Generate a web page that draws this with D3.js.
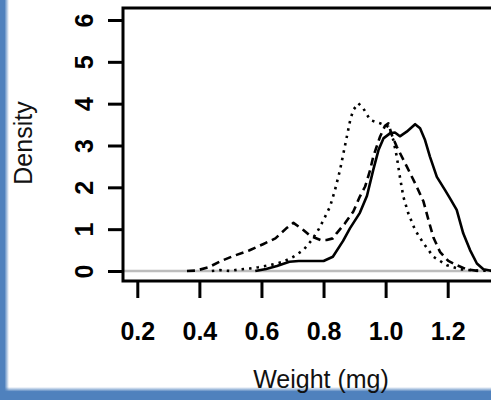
<!DOCTYPE html>
<html>
<head>
<meta charset="utf-8">
<script src="https://cdn.jsdelivr.net/npm/d3@7"></script>
<style>
  body { margin: 0; background: #fff; }
  svg { display: block; }
  text { font-family: 'Liberation Sans', Arial, sans-serif; }
  .tick text { font-family: 'Liberation Sans', Arial, sans-serif; font-weight: bold; font-size: 25px; fill: #000; }
  .axis-label { font-size: 25px; fill: #111; }
</style>
</head>
<body>
<svg width="491" height="400"></svg>
<script>
  // density curves: [weight, density]
  const solidCurve = [
    [0.58, 0], [0.615, 0.05], [0.65, 0.12], [0.69, 0.22], [0.72, 0.24], [0.80, 0.24],
    [0.83, 0.34], [0.863, 0.72], [0.885, 1.02], [0.917, 1.39], [0.94, 1.80],
    [0.96, 2.41], [0.977, 2.89], [0.993, 3.17], [1.014, 3.29], [1.03, 3.31],
    [1.046, 3.22], [1.068, 3.33], [1.095, 3.51], [1.111, 3.41], [1.127, 3.13],
    [1.143, 2.73], [1.165, 2.25], [1.191, 1.94], [1.207, 1.74], [1.229, 1.46],
    [1.25, 0.90], [1.272, 0.50], [1.294, 0.18], [1.315, 0.04], [1.336, 0.01], [1.40, 0]
  ];
  const dashedCurve = [
    [0.36, 0], [0.39, 0.01], [0.43, 0.09], [0.47, 0.24], [0.51, 0.36], [0.56, 0.49],
    [0.605, 0.64], [0.645, 0.78], [0.68, 1.02], [0.703, 1.15], [0.735, 0.98],
    [0.757, 0.84], [0.79, 0.74], [0.81, 0.74], [0.83, 0.78], [0.842, 0.90],
    [0.869, 1.14], [0.896, 1.42], [0.917, 1.78], [0.934, 2.02], [0.95, 2.41],
    [0.96, 2.73], [0.971, 2.97], [0.982, 3.21], [0.998, 3.47], [1.009, 3.53],
    [1.02, 3.25], [1.036, 2.97], [1.068, 2.50], [1.10, 2.02], [1.122, 1.66],
    [1.138, 1.22], [1.154, 0.80], [1.175, 0.46], [1.202, 0.24], [1.229, 0.14],
    [1.261, 0.04], [1.30, 0]
  ];
  const dottedCurve = [
    [0.44, 0], [0.466, 0.02], [0.50, 0], [0.53, 0.04], [0.563, 0.06], [0.59, 0.09],
    [0.628, 0.14], [0.67, 0.22], [0.703, 0.34], [0.735, 0.50], [0.762, 0.74],
    [0.783, 0.98], [0.80, 1.22], [0.821, 1.54], [0.837, 1.94], [0.853, 2.41],
    [0.864, 2.81], [0.875, 3.21], [0.886, 3.61], [0.896, 3.85], [0.912, 4.01],
    [0.928, 3.89], [0.95, 3.61], [0.982, 3.53], [1.009, 3.45], [1.025, 3.13],
    [1.036, 2.73], [1.046, 2.25], [1.057, 1.78], [1.073, 1.38], [1.095, 0.98],
    [1.122, 0.66], [1.154, 0.34], [1.197, 0.14], [1.24, 0.04], [1.294, 0.01], [1.35, 0]
  ];
  const xTicks = [0.2, 0.4, 0.6, 0.8, 1.0, 1.2];
  const yTicks = [0, 1, 2, 3, 4, 5, 6];

  const svg = d3.select('svg');
  const width = +svg.attr('width');
  const height = +svg.attr('height');

  // the right side of the box runs past the picture edge
  const box = {left: 123, top: 8, bottom: 281, right: 520};

  const xScale = d3.scaleLinear()
    .domain([0.2, 1.2])
    .range([137.3, 447.7]);
  const yScale = d3.scaleLinear()
    .domain([0, 6])
    .range([271, 20]);

  // blue frame of the slide
  const defs = svg.append('defs');
  const gl = defs.append('linearGradient').attr('id', 'fadeLeft');
  gl.append('stop').attr('offset', '0%').attr('stop-color', '#4f81bd');
  gl.append('stop').attr('offset', '50%').attr('stop-color', '#4f81bd');
  gl.append('stop').attr('offset', '100%').attr('stop-color', '#4f81bd').attr('stop-opacity', 0);
  const gb = defs.append('linearGradient').attr('id', 'fadeBottom')
    .attr('x1', 0).attr('y1', 1).attr('x2', 0).attr('y2', 0);
  gb.append('stop').attr('offset', '0%').attr('stop-color', '#4f81bd');
  gb.append('stop').attr('offset', '65%').attr('stop-color', '#4f81bd');
  gb.append('stop').attr('offset', '100%').attr('stop-color', '#4f81bd').attr('stop-opacity', 0);

  svg.append('rect').attr('x', 0).attr('y', 0).attr('width', 9).attr('height', height)
    .attr('fill', 'url(#fadeLeft)');
  svg.append('rect').attr('x', 0).attr('y', 387).attr('width', width).attr('height', 13)
    .attr('fill', 'url(#fadeBottom)');

  // zero line
  svg.append('line')
    .attr('x1', box.left).attr('x2', width)
    .attr('y1', yScale(0)).attr('y2', yScale(0))
    .attr('stroke', '#bdbdbd').attr('stroke-width', 2.5);

  const line = d3.line()
    .x(d => xScale(d[0]))
    .y(d => yScale(d[1]));

  const curves = [
    {data: solidCurve, dash: null},
    {data: dashedCurve, dash: '8,5'},
    {data: dottedCurve, dash: '2.5,5'}
  ];

  svg.selectAll('path.curve').data(curves)
    .enter().append('path')
      .attr('class', 'curve')
      .attr('d', d => line(d.data))
      .attr('fill', 'none')
      .attr('stroke', '#000')
      .attr('stroke-width', 2.6)
      .attr('stroke-linejoin', 'round')
      .attr('stroke-dasharray', d => d.dash);

  // plot box
  svg.append('rect')
    .attr('x', box.left).attr('y', box.top)
    .attr('width', box.right - box.left).attr('height', box.bottom - box.top)
    .attr('fill', 'none').attr('stroke', '#000').attr('stroke-width', 3);

  const xAxis = d3.axisBottom(xScale)
    .tickValues(xTicks)
    .tickFormat(d3.format('.1f'))
    .tickSize(17)
    .tickPadding(0);

  const xAxisG = svg.append('g')
    .attr('transform', `translate(0, ${box.bottom})`)
    .call(xAxis);
  xAxisG.select('.domain').remove();
  xAxisG.selectAll('.tick line').attr('stroke-width', 3);
  xAxisG.selectAll('.tick text').attr('y', 59).attr('dy', 0);

  const yAxis = d3.axisLeft(yScale)
    .tickValues(yTicks)
    .tickSize(15)
    .tickFormat(d3.format('d'));

  const yAxisG = svg.append('g')
    .attr('transform', `translate(${box.left}, 0)`)
    .call(yAxis);
  yAxisG.select('.domain').remove();
  yAxisG.selectAll('.tick line').attr('stroke-width', 3);
  yAxisG.selectAll('.tick text')
    .attr('x', null).attr('dy', null)
    .attr('transform', 'translate(-30, 0) rotate(-90)')
    .attr('text-anchor', 'middle');

  svg.append('text')
    .attr('class', 'axis-label')
    .attr('text-anchor', 'middle')
    .attr('transform', 'translate(32, 143) rotate(-90)')
    .text('Density');

  svg.append('text')
    .attr('class', 'axis-label')
    .attr('text-anchor', 'middle')
    .attr('x', 321)
    .attr('y', 388)
    .text('Weight (mg)');
</script>
</body>
</html>
